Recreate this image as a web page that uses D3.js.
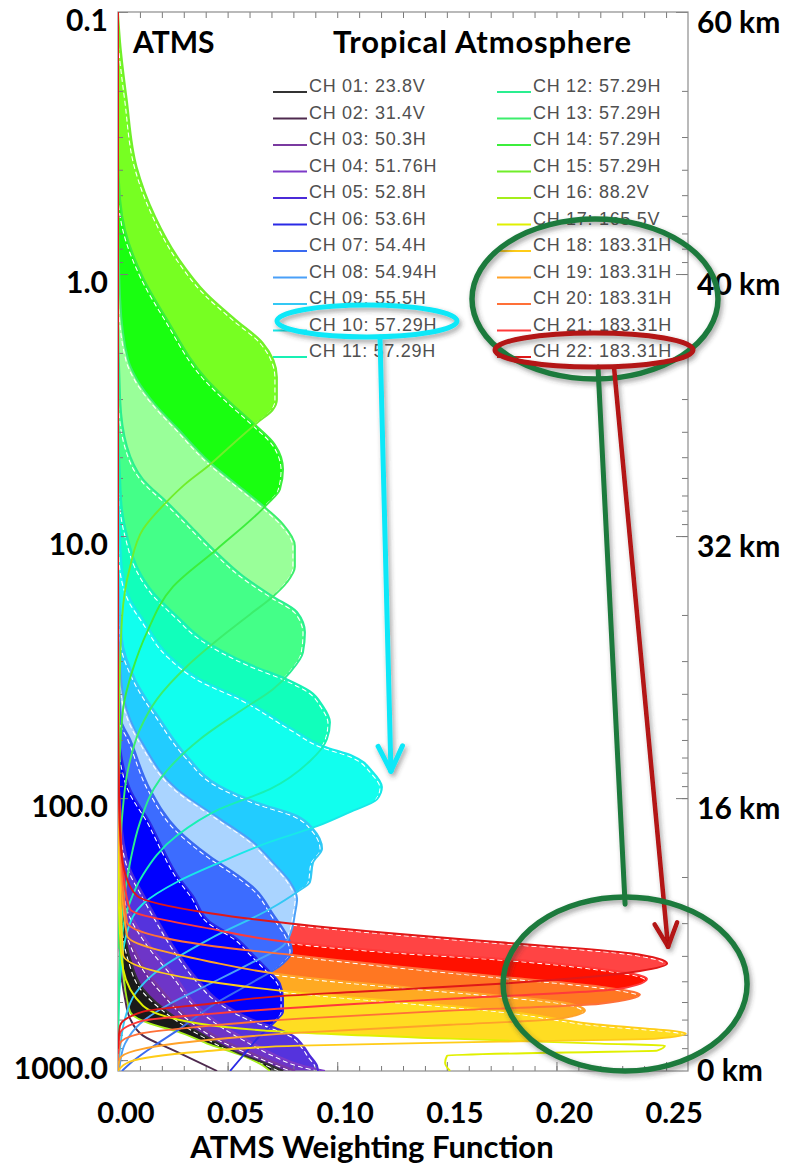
<!DOCTYPE html>
<html>
<head>
<meta charset="utf-8">
<script src="https://cdn.jsdelivr.net/npm/d3@7"></script>
<style>
  body { margin: 0; background: #fff; }
  svg { display: block; }
  .lbl { font-family: Lato, "Open Sans", sans-serif; font-weight: 700; fill: #000; }
  .leg { font-family: "Liberation Sans", Arial, sans-serif; font-size: 18px; fill: #505050; letter-spacing: 0.7px; }
</style>
</head>
<body>
<div id="chart"></div>
<script>
// legend text, one per channel
var channelLabels = ["CH 01: 23.8V", "CH 02: 31.4V", "CH 03: 50.3H", "CH 04: 51.76H", "CH 05: 52.8H",
  "CH 06: 53.6H", "CH 07: 54.4H", "CH 08: 54.94H", "CH 09: 55.5H", "CH 10: 57.29H", "CH 11: 57.29H",
  "CH 12: 57.29H", "CH 13: 57.29H", "CH 14: 57.29H", "CH 15: 57.29H", "CH 16: 88.2V", "CH 17: 165.5V",
  "CH 18: 183.31H", "CH 19: 183.31H", "CH 20: 183.31H", "CH 21: 183.31H", "CH 22: 183.31H"];

var lineColors = ["#333333", "#4e2a4e", "#7a3aa0", "#7d3ac8", "#4b2ad8", "#2a2ae6", "#3a6af0", "#4aa0f8",
  "#33c8f4", "#18e8e8", "#18f0b4", "#2aee90", "#3cee6c", "#3cee3c", "#70ee2a", "#a4ee1a", "#e0f000",
  "#ffcc18", "#ffa22a", "#ff7038", "#ff3a3a", "#e01818"];

var fillColors = ["#1a1a1a", null, "#6a2aa8", "#6e35c8", "#5533dd", "#0000ff", "#3c6cff", "#aad4ff",
  "#22ccff", "#11ffee", "#11ffbb", "#44ff88", "#99ff99", "#19ff10", "#77ff22", "#ffffff", "#ffffff",
  "#ffdd22", "#ffaa22", "#ff7722", "#ff1100", "#ff4444"];

// weighting functions: [pressure hPa, weight]
var wfCh01 = [[0.1,0],[101,0],[186,0.001],[289,0.0023],[410,0.0055],[534,0.0114],[694,0.0269],[828,0.042],[946,0.0557],[1043,0.0693],[1100,0.0753]];
var wfCh02 = [[0.1,0],[203,0],[410,0.001],[583,0.0032],[694,0.0055],[806,0.0114],[929,0.0269],[1100,0.0452]];
var wfCh03 = [[0.1,0],[120,0],[242,0.0018],[344,0.0055],[448,0.0123],[558,0.0214],[694,0.0328],[828,0.0465],[970,0.0648],[1100,0.0808]];
var wfCh04 = [[0.1,0],[84.6,0],[156,0.0014],[222,0.0032],[272,0.0055],[366,0.0146],[489,0.0269],[620,0.036],[740,0.0479],[850,0.0602],[962,0.0725],[1043,0.083],[1100,0.0944]];
var wfCh05 = [[0.1,0],[65,0],[120,0.0014],[186,0.0055],[232,0.0114],[272,0.016],[386,0.0269],[489,0.036],[598,0.0465],[694,0.0602],[758,0.0725],[806,0.0798],[880,0.0844],[962,0.0876],[1049,0.0908],[1100,0.0912]];
var wfCh06 = [[0.1,0],[50,0],[71,0.0018],[92.4,0.0055],[124,0.0146],[156,0.0205],[196,0.0269],[236,0.0342],[297,0.042],[344,0.0543],[396,0.0616],[460,0.0693],[511,0.0739],[583,0.0753],[653,0.0753],[694,0.073],[806,0.0648],[962,0.057],[1100,0.0511]];
var wfCh07 = [[0.1,0],[27,0],[50,0.0014],[59.6,0.0055],[92.4,0.0146],[131,0.0269],[167,0.042],[196,0.0543],[222,0.0625],[277,0.0707],[354,0.0785],[383,0.0794],[428,0.0753],[511,0.0602],[609,0.0443],[758,0.0283],[904,0.0146],[1030,0.0055],[1100,0.0018]];
var wfCh08 = [[0.1,0],[17.4,0],[35.2,0.0014],[50,0.0055],[62.2,0.0114],[92.4,0.0269],[120,0.0465],[147,0.0616],[176,0.0707],[209,0.0785],[242,0.0817],[277,0.0807],[315,0.0794],[366,0.0753],[428,0.0602],[511,0.042],[609,0.0237],[726,0.01],[865,0.0032],[1030,0.0009],[1100,0.0005]];
var wfCh09 = [[0.1,0],[11.2,0],[24.8,0.0018],[35.2,0.0078],[50,0.0192],[69.1,0.0315],[90,0.0465],[104,0.0634],[117,0.0817],[131,0.089],[156,0.0931],[176,0.089],[209,0.0876],[228,0.0817],[265,0.0693],[344,0.042],[448,0.0192],[558,0.0078],[694,0.0032],[904,0.0009],[1080,0]];
var wfCh10 = [[0.1,0],[4.67,0],[12.3,0.0014],[17.4,0.0055],[20.8,0.0114],[28.8,0.0237],[35.2,0.0374],[41.9,0.057],[54.6,0.0798],[63.3,0.0935],[69.1,0.1072],[79.6,0.1163],[90.7,0.1204],[101,0.1182],[113,0.1058],[128,0.0908],[147,0.0693],[176,0.0465],[209,0.0269],[253,0.0114],[315,0.0046],[448,0.0014],[758,0]];
var wfCh11 = [[0.1,0],[3.01,0],[7.24,0.0014],[10.3,0.0046],[13.1,0.0087],[16.4,0.016],[20.2,0.0269],[24.8,0.0388],[30.9,0.0602],[35.2,0.0771],[39.1,0.0876],[44.6,0.0935],[51.3,0.0967],[59.6,0.0953],[72.2,0.0876],[92.4,0.0693],[110,0.0465],[139,0.0269],[196,0.0114],[249,0.0055],[315,0.0023],[534,0.0005],[904,0]];
var wfCh12 = [[0.1,0],[1.25,0],[3.01,0.001],[4.55,0.0041],[6.07,0.0114],[7.43,0.0224],[8.86,0.0315],[11.2,0.0433],[14.2,0.057],[17,0.0707],[19.5,0.0817],[23.3,0.0853],[27.8,0.0844],[33.1,0.0785],[38.4,0.0707],[45.8,0.057],[59.6,0.0374],[84.6,0.0192],[124,0.01],[176,0.0055],[289,0.0018],[489,0.0005],[828,0]];
var wfCh13 = [[0.1,0],[0.521,0],[1.25,0.001],[2.12,0.0046],[2.53,0.0087],[3.14,0.0169],[3.86,0.0269],[5.24,0.042],[6.63,0.057],[7.9,0.068],[9.02,0.0753],[10.9,0.0807],[13.1,0.0807],[15,0.0771],[17,0.0707],[19.9,0.0602],[23.3,0.0497],[31.4,0.0315],[41.9,0.0178],[54.6,0.01],[77.5,0.0046],[120,0.0018],[203,0.0005],[376,0]];
var wfCh14 = [[0.1,0],[0.336,0],[0.521,0.001],[0.677,0.0032],[1.03,0.0114],[1.49,0.0224],[2.53,0.0406],[3.01,0.0497],[3.7,0.0616],[4.48,0.0716],[5.56,0.0753],[6.63,0.0739],[7.57,0.068],[11.2,0.0452],[15.6,0.0251],[23.3,0.0132],[32.2,0.0068],[45.8,0.0023],[84.6,0.0005],[203,0]];
var wfCh15 = [[0.1,0],[0.131,0.001],[0.216,0.004],[0.39,0.0085],[0.605,0.017],[0.882,0.028],[1.18,0.04],[1.49,0.0535],[1.83,0.066],[2.47,0.0725],[3.01,0.0725],[3.29,0.0707],[3.7,0.0634],[4.48,0.052],[5.33,0.042],[6.35,0.0305],[7.37,0.0224],[9.42,0.0114],[13.1,0.0055],[20.8,0.0018],[47,0.0005],[156,0]];
var wfCh16 = [[0.1,0],[41.9,0],[156,0.0005],[315,0.0014],[489,0.0027],[653,0.0055],[726,0.0146],[777,0.0269],[873,0.042],[962,0.057],[1043,0.0657],[1100,0.0693]];
var wfCh17 = [[0.1,0],[156,0],[344,0.001],[448,0.0023],[620,0.0114],[726,0.0374],[777,0.0739],[828,0.1515],[865,0.2199],[880,0.2495],[920,0.2459],[937,0.1957],[962,0.1501],[1022,0.1492],[1100,0.1515]];
var wfCh18 = [[0.1,0],[84.6,0],[203,0.001],[396,0.0023],[502,0.042],[548,0.0785],[598,0.1286],[647,0.1743],[726,0.2153],[792,0.259],[828,0.2459],[850,0.1743],[880,0.083],[929,0.0374],[1013,0.0055],[1100,0]];
var wfCh19 = [[0.1,0],[71,0],[171,0.001],[335,0.0041],[421,0.042],[476,0.0785],[524,0.1286],[567,0.1743],[609,0.2062],[647,0.213],[694,0.2016],[733,0.1515],[785,0.083],[843,0.0374],[920,0.0078],[987,0.0009],[1090,0]];
var wfCh20 = [[0.1,0],[59.6,0],[143,0.001],[297,0.0041],[366,0.042],[396,0.0785],[440,0.1286],[480,0.1743],[524,0.2199],[562,0.2381],[609,0.2199],[647,0.1515],[694,0.083],[745,0.0374],[792,0.01],[865,0.0009],[1004,0]];
var wfCh21 = [[0.1,0],[50,0],[120,0.001],[203,0.0027],[265,0.0055],[315,0.042],[355,0.0785],[387,0.1286],[410,0.1743],[448,0.2199],[489,0.2413],[534,0.229],[583,0.1515],[609,0.1095],[666,0.042],[707,0.0114],[792,0.0009],[946,0]];
var wfCh22 = [[0.1,0],[41.9,0],[101,0.0005],[156,0.0014],[193,0.0032],[236,0.0087],[275,0.042],[301,0.0785],[330,0.1286],[355,0.1743],[391,0.2336],[428,0.2505],[457,0.2381],[511,0.1743],[548,0.1095],[571,0.0725],[609,0.042],[653,0.0114],[740,0.0009],[904,0]];

var wfData = [wfCh01, wfCh02, wfCh03, wfCh04, wfCh05, wfCh06, wfCh07, wfCh08, wfCh09, wfCh10, wfCh11,
  wfCh12, wfCh13, wfCh14, wfCh15, wfCh16, wfCh17, wfCh18, wfCh19, wfCh20, wfCh21, wfCh22];

// painting order of the filled curves (channel numbers)
var fillOrder = [22, 21, 20, 19, 18, 17, 15, 14, 13, 12, 11, 10, 9, 8, 7, 6, 5, 4, 3, 2, 1, 16];
// painting order of the curve outlines
var lineOrder = [16, 1, 2, 3, 4, 5, 6, 7, 8, 9, 10, 11, 12, 13, 14, 15, 17, 18, 19, 20, 21, 22];

var pressureTicks = [0.1, 1, 10, 100, 1000];
var pressureLabels = ["0.1", "1.0", "10.0", "100.0", "1000.0"];
var heightLabels = ["60 km", "40 km", "32 km", "16 km", "0 km"];
var wfTicks = [0, 0.05, 0.10, 0.15, 0.20, 0.25];
var wfTickLabels = ["0.00", "0.05", "0.10", "0.15", "0.20", "0.25"];

var W = 789, H = 1167;
var margin = {top: 12, right: 101, bottom: 96, left: 118};

var svg = d3.select("#chart").append("svg")
  .attr("width", W)
  .attr("height", H);

var x = d3.scaleLinear().domain([0, 0.26]).range([margin.left, W - margin.right]);
var y = d3.scaleLog().domain([0.1, 1100]).range([margin.top, H - margin.bottom]);

var defs = svg.append("defs");
defs.append("clipPath").attr("id", "plot")
  .append("rect")
  .attr("x", x(0)).attr("y", y(0.1))
  .attr("width", x(0.26) - x(0)).attr("height", y(1100) - y(0.1));

var shadow = defs.append("filter").attr("id", "shadow")
  .attr("x", "-20%").attr("y", "-20%").attr("width", "140%").attr("height", "140%");
shadow.append("feDropShadow")
  .attr("dx", 2).attr("dy", 3).attr("stdDeviation", 2.5)
  .attr("flood-color", "#333").attr("flood-opacity", 0.45);

var area = d3.area()
  .curve(d3.curveMonotoneY)
  .y(function(d) { return y(d[0]); })
  .x0(x(0))
  .x1(function(d) { return x(d[1]); });

var line = d3.line()
  .curve(d3.curveMonotoneY)
  .x(function(d) { return x(d[1]); })
  .y(function(d) { return y(d[0]); });

var plot = svg.append("g").attr("clip-path", "url(#plot)");

// filled weighting functions
fillOrder.forEach(function(ch) {
  var i = ch - 1;
  if (!fillColors[i]) return;
  plot.append("path")
    .datum(wfData[i])
    .attr("d", area)
    .attr("fill", fillColors[i]);
  if (fillColors[i] !== "#ffffff") {
    plot.append("path")
      .datum(wfData[i])
      .attr("d", line)
      .attr("fill", "none")
      .attr("stroke", "#fff")
      .attr("stroke-width", 1.1)
      .attr("stroke-dasharray", "5,3")
      .attr("transform", "translate(-2,1.2)");
  }
});

// axes frame and ticks
var minorY = y.ticks().filter(function(d) { return d <= 1000; });
var minorX = d3.range(0, 26).map(function(d) { return d / 100; });

function styleAxis(g) {
  g.select(".domain").remove();
  g.selectAll(".tick line").attr("stroke", "#7a7a7a").attr("stroke-width", 1);
}

svg.append("g").attr("transform", "translate(" + x(0) + ",0)")
  .call(d3.axisLeft(y).tickValues(minorY).tickSize(-5).tickFormat(""))
  .call(styleAxis);
svg.append("g").attr("transform", "translate(" + x(0) + ",0)")
  .call(d3.axisLeft(y).tickValues(pressureTicks).tickSize(-10).tickFormat(""))
  .call(styleAxis);
svg.append("g").attr("transform", "translate(" + x(0.26) + ",0)")
  .call(d3.axisRight(y).tickValues(minorY).tickSize(-6).tickFormat(""))
  .call(styleAxis);
svg.append("g").attr("transform", "translate(" + x(0.26) + ",0)")
  .call(d3.axisRight(y).tickValues(pressureTicks).tickSize(-12).tickFormat(""))
  .call(styleAxis);
svg.append("g").attr("transform", "translate(0," + y(0.1) + ")")
  .call(d3.axisTop(x).tickValues(minorX).tickSize(-6).tickFormat(""))
  .call(styleAxis);
svg.append("g").attr("transform", "translate(0," + y(1100) + ")")
  .call(d3.axisBottom(x).tickValues(minorX).tickSize(-5).tickFormat(""))
  .call(styleAxis);
svg.append("g").attr("transform", "translate(0," + y(1100) + ")")
  .call(d3.axisBottom(x).tickValues(wfTicks).tickSize(-9).tickFormat(""))
  .call(styleAxis);

svg.append("rect")
  .attr("x", x(0)).attr("y", y(0.1))
  .attr("width", x(0.26) - x(0)).attr("height", y(1100) - y(0.1))
  .attr("fill", "none").attr("stroke", "#8c8c8c").attr("stroke-width", 1.2);

// curves on top
var lines = svg.append("g").attr("clip-path", "url(#plot)");
lineOrder.forEach(function(ch) {
  var i = ch - 1;
  lines.append("path")
    .datum(wfData[i])
    .attr("d", line)
    .attr("fill", "none")
    .attr("stroke", lineColors[i])
    .attr("stroke-width", 1.9);
});

// tick labels
svg.selectAll(".plabel").data(pressureTicks).join("text")
  .attr("class", "lbl")
  .attr("x", 108).attr("y", function(d) { return y(d) + 19; })
  .attr("text-anchor", "end").attr("font-size", 30)
  .text(function(d, i) { return pressureLabels[i]; });

svg.selectAll(".hlabel").data(pressureTicks).join("text")
  .attr("class", "lbl")
  .attr("x", x(0.26) + 9).attr("y", function(d) { return y(d) + 21; })
  .attr("font-size", 30)
  .text(function(d, i) { return heightLabels[i]; });

svg.selectAll(".xlabel").data(wfTicks).join("text")
  .attr("class", "lbl")
  .attr("x", function(d) { return x(d) + 8; }).attr("y", y(1100) + 52)
  .attr("text-anchor", "middle").attr("font-size", 29)
  .text(function(d, i) { return wfTickLabels[i]; });

svg.append("text").attr("class", "lbl")
  .attr("x", 372).attr("y", 1158).attr("text-anchor", "middle").attr("font-size", 31)
  .text("ATMS Weighting Function");

svg.append("text").attr("class", "lbl")
  .attr("x", 133).attr("y", 53).attr("font-size", 30)
  .text("ATMS");
svg.append("text").attr("class", "lbl")
  .attr("x", 333).attr("y", 53).attr("font-size", 31).attr("letter-spacing", 0.8)
  .text("Tropical Atmosphere");

// legend
var legendX = [273, 497];
var legendY0 = 92;
var rowGap = 26.5;
function rowY(r) { return legendY0 + r * rowGap; }

var legend = svg.append("g");
var items = legend.selectAll("g").data(channelLabels).join("g")
  .attr("transform", function(d, i) {
    var col = i < 11 ? 0 : 1;
    var row = i < 11 ? i : i - 11;
    return "translate(" + legendX[col] + "," + rowY(row) + ")";
  });
items.append("line")
  .attr("x1", 0).attr("x2", 34).attr("y1", 0).attr("y2", 0)
  .attr("stroke", function(d, i) { return lineColors[i]; })
  .attr("stroke-width", 2);
items.append("text")
  .attr("class", "leg")
  .attr("x", 36).attr("y", 0)
  .text(function(d) { return d; });

// annotations
var note = svg.append("g").attr("fill", "none").attr("filter", "url(#shadow)");

function arrow(g, x1, y1, x2, y2, color, width, head) {
  g.append("line").attr("x1", x1).attr("y1", y1).attr("x2", x2).attr("y2", y2)
    .attr("stroke", color).attr("stroke-width", width).attr("stroke-linecap", "round");
  if (!head) return;
  var a = Math.atan2(y2 - y1, x2 - x1);
  [-0.45, 0.45].forEach(function(o) {
    g.append("line")
      .attr("x1", x2).attr("y1", y2)
      .attr("x2", x2 - head * Math.cos(a + o)).attr("y2", y2 - head * Math.sin(a + o))
      .attr("stroke", color).attr("stroke-width", width).attr("stroke-linecap", "round");
  });
}

var cyanC = {x: legendX[0] + 94, y: rowY(9) - 9.5};
var redC = {x: legendX[1] + 97, y: rowY(10) - 7};

note.append("ellipse").attr("cx", cyanC.x).attr("cy", cyanC.y).attr("rx", 90).attr("ry", 16)
  .attr("stroke", "#10e8f8").attr("stroke-width", 5);
arrow(note, cyanC.x + 13, cyanC.y + 16, x(0.1245), y(79), "#10e8f8", 5, 28);

note.append("ellipse").attr("cx", legendX[1] + 98).attr("cy", (rowY(6) + rowY(10)) / 2 - 5)
  .attr("rx", 123).attr("ry", 80)
  .attr("stroke", "#1b7a3c").attr("stroke-width", 5.5);

arrow(note, redC.x + 4, redC.y + 17, x(0.2313), y(254), "#1b7a3c", 5, 0);
arrow(note, redC.x + 20, redC.y + 17, x(0.2509), y(369), "#b31212", 4.5, 26);

note.append("ellipse").attr("cx", redC.x).attr("cy", redC.y).attr("rx", 99).attr("ry", 17)
  .attr("stroke", "#b31212").attr("stroke-width", 5);

note.append("ellipse").attr("cx", x(0.2313)).attr("cy", y(512)).attr("rx", 122).attr("ry", 87)
  .attr("stroke", "#1b7a3c").attr("stroke-width", 5.5);
</script>
</body>
</html>
